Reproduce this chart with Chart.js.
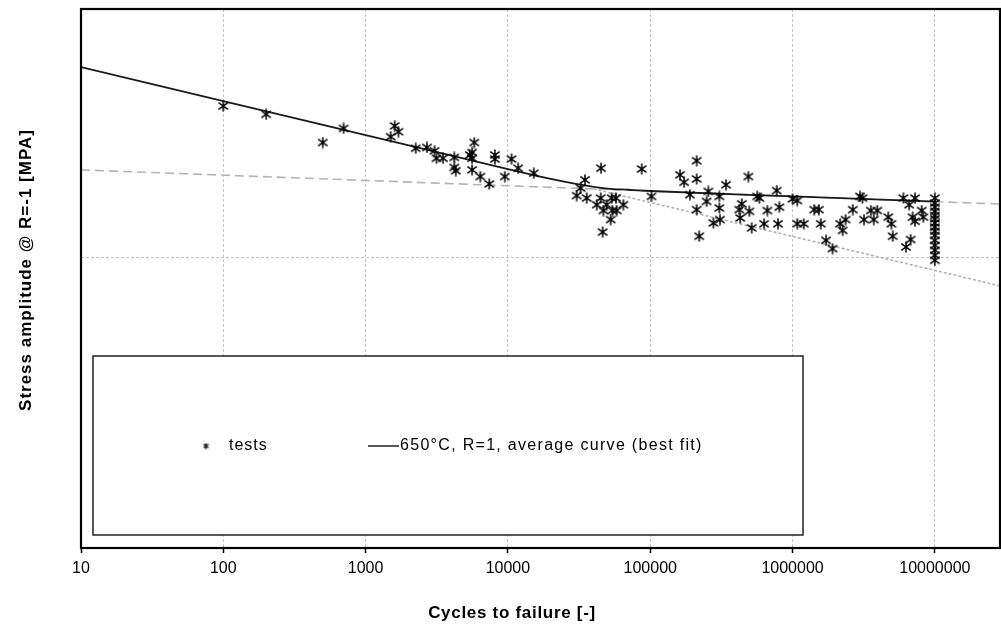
<!DOCTYPE html>
<html>
<head>
<meta charset="utf-8">
<script src="https://cdn.jsdelivr.net/npm/chart.js@4.4.1/dist/chart.umd.min.js"></script>
<style>
  html, body { margin: 0; padding: 0; background: #fff; }
  #wrap { width: 1001px; height: 630px; }
</style>
</head>
<body>
<div id="wrap"><canvas id="snChart" width="1001" height="630"></canvas></div>
<script>
// fatigue tests: cycles to failure / stress amplitude (MPa)
const testCycles = [
    100, 200, 500, 700, 1500, 1600, 1700, 2250, 2700, 3050, 3150, 3500, 4200, 4200, 4300,
    5400, 5600, 5800, 5600, 5600, 6400, 7400, 8100, 8100, 9500, 10600, 11800, 15200,
    30400, 32400, 34800, 35800, 45100, 42100, 44900, 46900, 49400, 53600, 57500, 54200,
    52700, 58100, 46300, 64700, 87100, 102000,
    162000, 173000, 190000, 212000, 212000, 212000, 221000, 249000, 256000, 278000,
    306000, 306000, 309000, 341000, 423000, 429000, 440000, 489000, 497000, 516000,
    565000, 585000, 631000, 665000, 774000, 790000, 808000, 1000000, 1080000, 1080000,
    1200000, 1420000, 1530000, 1580000, 1720000, 1910000, 2160000, 2250000, 2360000,
    2650000, 2980000, 3100000, 3180000, 3550000, 3720000, 3940000, 4710000, 4950000,
    5060000, 6010000, 6270000, 6600000, 6760000, 6980000, 7260000, 7260000, 8090000, 8300000,
    10000000, 10000000, 10000000, 10000000, 10000000, 10000000, 10000000, 10000000,
    10000000, 10000000, 10000000, 10000000, 10000000, 10000000, 10000000
];
const testStress = [
    533, 523, 489, 506, 496, 509, 502, 482, 483, 479, 470, 470, 471, 459, 455,
    474, 477, 489, 470, 456, 448, 439, 474, 469, 448, 469, 458, 452,
    425, 434, 444, 422, 458, 414, 422, 407, 414, 422, 422, 407,
    396, 407, 381, 414, 457, 424,
    450, 441, 426, 467, 445, 408, 376, 418, 430, 392,
    424, 410, 396, 438, 408, 398, 415, 448, 406, 386,
    424, 422, 391, 407, 431, 391, 411, 421, 419, 391,
    391, 408, 408, 391, 371, 361, 391, 383, 396,
    408, 424, 422, 396, 407, 396, 407, 399, 391,
    376, 422, 363, 414, 372, 399, 422, 394, 407, 399,
    422, 416, 411, 406, 401, 397, 392, 387,
    382, 377, 371, 365, 359, 353, 347
];

// average curve (best fit), bilinear with rounded knee
const fitCycles = [10, 100, 1000, 10000, 20000, 30000, 40000, 50000, 70000, 100000, 1000000, 10000000];
const fitStress = [580, 539, 498, 457, 445, 439, 435.5, 433.5, 432, 430.5, 424, 417.7];

// long-life branch extended over the whole range
const flatCycles = [10, 28700000];
const flatStress = [456, 414.8];

// short-life branch continued past the knee
const steepCycles = [40000, 28700000];
const steepStress = [433, 316];

const xTickValues = [10, 100, 1000, 10000, 100000, 1000000, 10000000];
const yGridValues = [350];

const FONT = "'Liberation Sans', Arial, sans-serif";

function toPoints(xs, ys) {
    return xs.map((x, i) => ({ x: x, y: ys[i] }));
}

// asterisk marker: vertical stroke plus an X
function makeStar(size, lw) {
    const c = document.createElement('canvas');
    c.width = c.height = size;
    const g = c.getContext('2d');
    const m = size / 2, r = size / 2 - 0.5;
    g.strokeStyle = '#000';
    g.lineWidth = lw;
    g.beginPath();
    g.moveTo(m, m - r); g.lineTo(m, m + r);
    g.moveTo(m - r * 0.85, m - r * 0.6); g.lineTo(m + r * 0.85, m + r * 0.6);
    g.moveTo(m - r * 0.85, m + r * 0.6); g.lineTo(m + r * 0.85, m - r * 0.6);
    g.stroke();
    return c;
}
const starMarker = makeStar(12, 1.5);
const smallStar = makeStar(7, 1.2);

const sheetDecor = {
    id: 'sheetDecor',
    beforeDatasetsDraw(chart) {
        const ctx = chart.ctx;
        // legend box sits inside the plot, over the grid
        ctx.save();
        ctx.fillStyle = '#fff';
        ctx.fillRect(93, 356, 710, 179);
        ctx.strokeStyle = '#222';
        ctx.lineWidth = 1.5;
        ctx.strokeRect(93, 356, 710, 179);

        ctx.drawImage(smallStar, 206 - 3.5, 446 - 3.5);
        ctx.fillStyle = '#000';
        ctx.font = '16px ' + FONT;
        ctx.textBaseline = 'middle';
        ctx.letterSpacing = '1px';
        ctx.fillText(chart.data.datasets[0].label, 229, 446);

        ctx.strokeStyle = '#222';
        ctx.lineWidth = 1.5;
        ctx.beginPath();
        ctx.moveTo(368, 446);
        ctx.lineTo(399, 446);
        ctx.stroke();
        ctx.letterSpacing = '1.3px';
        ctx.fillText(chart.data.datasets[1].label, 400, 446);
        ctx.restore();
    },
    afterDatasetsDraw(chart) {
        const { ctx, chartArea: a } = chart;
        ctx.save();
        ctx.strokeStyle = '#000';
        ctx.lineWidth = 2.2;
        ctx.strokeRect(a.left, a.top, a.right - a.left, a.bottom - a.top);

        // axis titles
        ctx.fillStyle = '#000';
        ctx.font = 'bold 17px ' + FONT;
        ctx.letterSpacing = '0.7px';
        ctx.textAlign = 'center';
        ctx.textBaseline = 'middle';
        ctx.fillText('Cycles to failure [-]', 512, 613);
        ctx.translate(26, 270);
        ctx.rotate(-Math.PI / 2);
        ctx.letterSpacing = '1px';
        ctx.fillText('Stress amplitude @ R=-1 [MPA]', 0, 0);
        ctx.restore();
    }
};

const snChart = new Chart(document.getElementById('snChart').getContext('2d'), {
    type: 'scatter',
    data: {
        datasets: [{
            label: 'tests',
            data: toPoints(testCycles, testStress),
            pointStyle: starMarker,
            pointRadius: 6,
            order: 0
        }, {
            label: '650°C, R=1, average curve (best fit)',
            data: toPoints(fitCycles, fitStress),
            showLine: true,
            borderColor: '#1a1a1a',
            borderWidth: 1.8,
            pointRadius: 0,
            cubicInterpolationMode: 'monotone',
            order: 1
        }, {
            label: 'flat branch',
            data: toPoints(flatCycles, flatStress),
            showLine: true,
            borderColor: '#b4b4b4',
            borderWidth: 1.6,
            borderDash: [9, 5],
            pointRadius: 0,
            order: 2
        }, {
            label: 'steep branch',
            data: toPoints(steepCycles, steepStress),
            showLine: true,
            borderColor: '#b4b4b4',
            borderWidth: 1.6,
            borderDash: [3, 2],
            pointRadius: 0,
            order: 3
        }]
    },
    options: {
        responsive: false,
        animation: false,
        layout: { autoPadding: false, padding: { top: 9, right: 1, left: 0, bottom: 0 } },
        plugins: {
            legend: { display: false },
            tooltip: { enabled: false }
        },
        scales: {
            x: {
                type: 'logarithmic',
                position: 'bottom',
                min: 10,
                max: 28700000,
                afterBuildTicks: scale => {
                    scale.ticks = xTickValues.map(v => ({ value: v }));
                },
                afterFit: scale => { scale.height = 82; },
                ticks: {
                    callback: value => String(value),
                    autoSkip: false,
                    maxRotation: 0,
                    color: '#000',
                    padding: 6,
                    font: { family: FONT, size: 16 }
                },
                grid: {
                    color: '#c4c4c4',
                    lineWidth: 1,
                    tickLength: 5,
                    tickColor: '#000',
                    tickWidth: 1.5
                },
                border: { display: false, dash: [3, 2] }
            },
            y: {
                type: 'linear',
                min: 0,
                max: 650,
                afterBuildTicks: scale => {
                    scale.ticks = yGridValues.map(v => ({ value: v }));
                },
                afterFit: scale => { scale.width = 81; },
                ticks: { display: false },
                grid: { color: '#c4c4c4', lineWidth: 1, drawTicks: false },
                border: { display: false, dash: [3, 2] }
            }
        }
    },
    plugins: [sheetDecor]
});
</script>
</body>
</html>
